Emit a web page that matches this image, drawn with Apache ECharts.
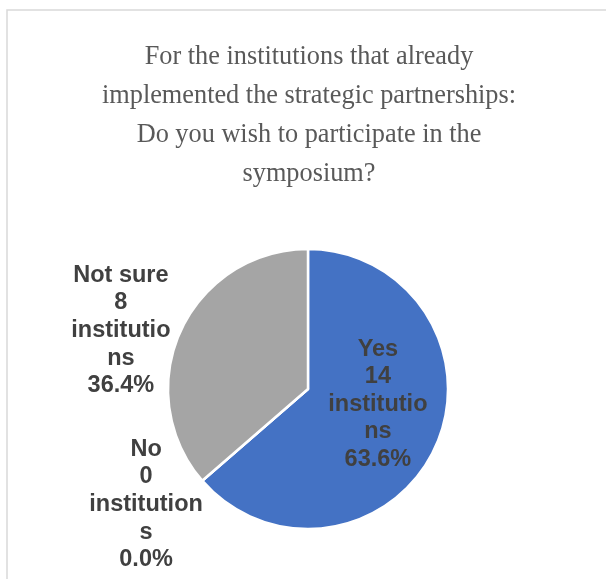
<!DOCTYPE html>
<html>
<head>
<meta charset="utf-8">
<style>
  html, body { margin: 0; padding: 0; background: #ffffff; }
  #chart { width: 606px; height: 579px; }
</style>
<script src="https://cdn.jsdelivr.net/npm/echarts@6/dist/echarts.min.js"></script>
</head>
<body>
<div id="chart"></div>
<script>
// Survey answers and the number of institutions for each
const categories = ['Yes', 'No', 'Not sure'];
const counts = [14, 0, 8];
// Unit word as wrapped inside each data label
const unitLines = [
  ['institutio', 'ns'],
  ['institution', 's'],
  ['institutio', 'ns']
];
const sliceColors = ['#4472C4', '#ED7D31', '#A5A5A5'];
const titleLines = [
  'For the institutions that already',
  'implemented the strategic partnerships:',
  'Do you wish to participate in the',
  'symposium?'
];
// Small shifts applied to each label after the pie places it
const labelNudge = [[3.5, -15], [47, 14], [38.5, 6]];

const chart = echarts.init(document.getElementById('chart'), null, { renderer: 'canvas' });

const labelFont = {
  fontFamily: 'Liberation Sans, Arial, sans-serif',
  fontWeight: 'bold',
  fontSize: 23.5,
  lineHeight: 27.6,
  color: '#404040',
  align: 'center'
};

const data = categories.map((name, i) => ({
  name: name,
  value: counts[i],
  itemStyle: { color: sliceColors[i] },
  label: i === 0 ? { position: 'inside' } : { position: 'outside' },
  labelLine: { show: false }
}));

chart.setOption({
  animation: false,
  backgroundColor: '#ffffff',
  graphic: [{
    type: 'rect',
    shape: { x: 7, y: 10, width: 700, height: 700 },
    style: { fill: 'none', stroke: '#d9d9d9', lineWidth: 1.5 },
    silent: true
  }],
  title: {
    text: titleLines.join('\n'),
    left: 304,
    top: 32,
    textAlign: 'center',
    textStyle: {
      fontFamily: 'Liberation Serif, Times New Roman, serif',
      fontWeight: 'normal',
      fontSize: 26.3,
      lineHeight: 39.3,
      color: '#595959'
    }
  },
  series: [{
    type: 'pie',
    center: [308, 389],
    radius: 140,
    startAngle: 90,
    clockwise: true,
    avoidLabelOverlap: false,
    minShowLabelAngle: 0,
    itemStyle: { borderColor: '#ffffff', borderWidth: 2.5 },
    label: Object.assign({
      show: true,
      formatter: p => [p.name, String(p.value)]
        .concat(unitLines[p.dataIndex])
        .concat([p.percent.toFixed(1) + '%'])
        .join('\n')
    }, labelFont),
    labelLine: { show: false },
    labelLayout: p => {
      const r = p.labelRect;
      const n = labelNudge[p.dataIndex];
      return {
        x: r.x + r.width / 2 + n[0],
        y: r.y + r.height / 2 + n[1],
        align: 'center',
        verticalAlign: 'middle'
      };
    },
    emphasis: { disabled: true },
    data: data
  }]
});
</script>
</body>
</html>
